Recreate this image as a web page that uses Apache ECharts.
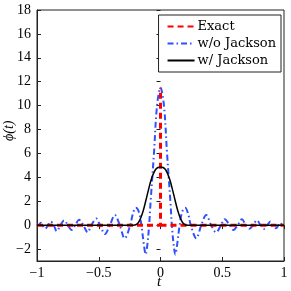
<!DOCTYPE html>
<html><head><meta charset="utf-8">
<script src="https://cdn.jsdelivr.net/npm/echarts@6/dist/echarts.min.js"></script>
<style>html,body{margin:0;padding:0;background:#fff}#c{width:291px;height:291px}</style>
</head><body><div id="c"></div>
<script>
var xTicks = [-1, -0.5, 0, 0.5, 1];
var yTicks = [-2, 0, 2, 4, 6, 8, 10, 12, 14, 16, 18];

var exactT = [-1, 0, 0, null, 0, 1];
var exactV = [0, 0, 11.5, null, 0, 0];

var noJacksonT = [-1, -0.985, -0.97, -0.955, -0.935, -0.91, -0.89, -0.865, -0.84, -0.81, -0.78, -0.75, -0.72, -0.69, -0.66, -0.625, -0.59, -0.56, -0.52, -0.49, -0.45, -0.41, -0.37, -0.33, -0.29, -0.245, -0.225, -0.2, -0.175, -0.155, -0.135, -0.12, -0.105, -0.092, -0.08, -0.053, -0.028, 0, 0.028, 0.053, 0.08, 0.092, 0.105, 0.12, 0.135, 0.155, 0.175, 0.2, 0.225, 0.245, 0.29, 0.33, 0.37, 0.41, 0.45, 0.49, 0.52, 0.56, 0.59, 0.625, 0.66, 0.69, 0.72, 0.75, 0.78, 0.81, 0.84, 0.865, 0.89, 0.91, 0.935, 0.955, 0.97, 0.985, 1];
var noJacksonV = [0.1, 0, 0.2, 0, -0.3, 0, 0.3, 0, -0.5, 0, 0.4, 0, -0.4, 0, 0.45, 0, -0.6, 0, 0.55, 0, -0.75, 0, 0.85, 0, -1.1, 0, 0.9, 1.45, 1.1, 0, -1.6, -2.45, -1.5, 0, 2, 6, 10, 11.5, 10, 6, 2, 0, -1.5, -2.45, -1.6, 0, 1.1, 1.45, 0.9, 0, -1.1, 0, 0.85, 0, -0.6, 0, 0.5, 0, -0.4, 0, 0.5, 0, -0.3, 0, 0.4, 0, -0.3, 0, 0.3, 0, -0.25, 0, 0.2, 0, -0.1];

var jacksonT = [-1, -0.22, -0.2, -0.18, -0.16, -0.14, -0.12, -0.1, -0.08, -0.06, -0.04, -0.02, 0, 0.02, 0.04, 0.06, 0.08, 0.1, 0.12, 0.14, 0.16, 0.18, 0.2, 0.22, 1];
var jacksonV = [0, 0, 0.03, 0.2, 0.6, 1.2, 2.0, 2.85, 3.65, 4.25, 4.65, 4.82, 4.87, 4.82, 4.65, 4.25, 3.65, 2.85, 2.0, 1.2, 0.6, 0.2, 0.03, 0, 0];

function pairs(t, v) { return t.map(function (x, i) { return x === null ? '-' : [x, v[i]]; }); }
function fmt(v) { return String(v).replace('-', '\u2212'); }

var font = 'Liberation Serif';
var chart = echarts.init(document.getElementById('c'));
chart.setOption({
  animation: false,
  grid: { left: 37, right: 7, top: 10, bottom: 30, show: true, borderColor: '#222', borderWidth: 1 },
  legend: {
    orient: 'vertical', right: 10, top: 15,
    itemWidth: 27, itemHeight: 14, itemGap: 4,
    itemStyle: { opacity: 0 },
    padding: [5, 5, 5, 8],
    borderColor: '#222', borderWidth: 1, backgroundColor: '#fff',
    textStyle: { fontFamily: 'DejaVu Serif', fontSize: 13, color: '#000', padding: [0, 0, 0, -2] },
    data: ['Exact', 'w/o Jackson', 'w/ Jackson']
  },
  xAxis: [{
    type: 'value', min: -1, max: 1, interval: 0.5,
    axisLine: { show: true, onZero: false, lineStyle: { color: '#222' } },
    axisTick: { inside: true, length: 4, lineStyle: { color: '#222' } },
    splitLine: { show: false },
    axisLabel: { fontFamily: font, fontSize: 14, color: '#000', margin: 5, formatter: fmt, customValues: xTicks }
  }, {
    type: 'value', min: -1, max: 1, interval: 0.5, position: 'top',
    axisLine: { show: false },
    axisTick: { inside: true, length: 4, lineStyle: { color: '#222' } },
    splitLine: { show: false }, axisLabel: { show: false }
  }],
  yAxis: [{
    type: 'value', min: -3, max: 18,
    axisLine: { show: true, onZero: false, lineStyle: { color: '#222' } },
    axisTick: { inside: true, length: 4, lineStyle: { color: '#222' }, customValues: yTicks },
    splitLine: { show: false },
    axisLabel: { fontFamily: font, fontSize: 14, color: '#000', margin: 6, formatter: fmt, customValues: yTicks }
  }, {
    type: 'value', min: -3, max: 18, position: 'right',
    axisLine: { show: false },
    axisTick: { inside: true, length: 4, lineStyle: { color: '#222' }, customValues: yTicks },
    splitLine: { show: false }, axisLabel: { show: false }
  }],
  graphic: [
    { type: 'text', left: 157, top: 275, style: { text: 't', font: 'italic 15px "Liberation Serif"', fill: '#000' } },
    { type: 'text', x: 2, y: 141, rotation: Math.PI / 2, style: { text: '\u03d5(t)', font: 'italic 14px "Liberation Serif"', fill: '#000' } }
  ],
  series: [
    { name: 'Exact', type: 'line', symbol: 'none', data: pairs(exactT, exactV), z: 3, connectNulls: false,
      lineStyle: { color: '#ff0000', width: 3, type: [6, 4] }, itemStyle: { color: '#ff0000' } },
    { name: 'w/o Jackson', type: 'line', symbol: 'none', smooth: 0.35, data: pairs(noJacksonT, noJacksonV), z: 2,
      lineStyle: { color: '#3050ff', width: 2, type: [6, 3, 1.5, 3] }, itemStyle: { color: '#3050ff' } },
    { name: 'w/ Jackson', type: 'line', symbol: 'none', smooth: 0.3, data: pairs(jacksonT, jacksonV), z: 4,
      lineStyle: { color: '#000', width: 1.5 }, itemStyle: { color: '#000' } }
  ]
});
</script></body></html>
